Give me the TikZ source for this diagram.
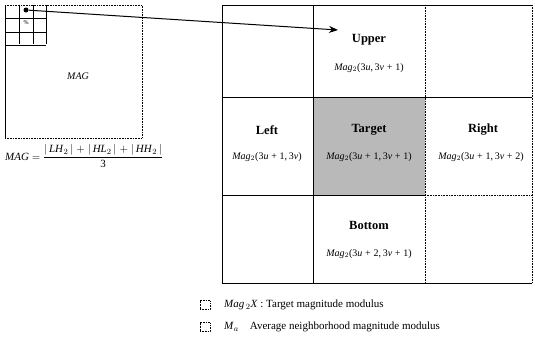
\documentclass[tikz,border=0pt]{standalone}
\usepackage{fontspec}
\setmainfont{Liberation Serif}
\usetikzlibrary{arrows.meta,patterns}
\begin{document}
\begin{tikzpicture}[x=1pt,y=-1pt,
  gridline/.style={line width=0.6pt,black},
  dotline/.style={line width=0.6pt,densely dotted,black},
  title/.style={font=\fontsize{12.5}{14}\selectfont\bfseries,inner sep=0pt},
  formula/.style={font=\fontsize{10}{12}\selectfont,inner sep=0pt},
  legtext/.style={font=\fontsize{11}{13}\selectfont,anchor=west,inner sep=0pt},
  legbox/.style={draw,densely dotted,line width=0.6pt,minimum width=10pt,minimum height=9pt,inner sep=0pt}]
\useasboundingbox (0,0) rectangle (535,343);
% left MAG square
\draw[gridline] (5,5) -- (5,138);
\draw[dotline] (5,5) -- (142,5) -- (142,138) -- (5,138);
\foreach \i in {19,33,46} {\draw[gridline] (\i,5) -- (\i,44); \draw[gridline] (5,\i-1) -- (46,\i-1);}
\node[circle,fill=black,inner sep=0pt,minimum size=5pt] (dot) at (26,10) {};
\node[font=\fontsize{6}{6}\selectfont,inner sep=0pt] (hatch) at (26,23) {\%};
\node[font=\fontsize{10}{11}\selectfont\itshape,inner sep=0pt] (mag) at (78,76) {MAG};
% formula
\node[font=\fontsize{11}{13}\selectfont,inner sep=0pt,anchor=west] (formula) at (5,156)
  {\textit{MAG} $=$ $\displaystyle\frac{\mbox{\fontsize{11}{13}\selectfont$|$\,\textit{LH}$_2$\,$|$\;$+$\;$|$\,\textit{HL}$_2$\,$|$\;$+$\;$|$\,\textit{HH}$_2$\,$|$}}{\mbox{\fontsize{11}{13}\selectfont 3}}$};
% right grid
\node[fill=gray!55,minimum width=112pt,minimum height=98pt,inner sep=0pt] (targetcell) at (369,146) {};
\draw[line width=1pt] (222,5) -- (532,5);
\draw[gridline] (222,5) -- (222,283) -- (532,283);
\draw[dotline] (532,5) -- (532,283);
\draw[line width=0.9pt] (222,97) -- (532,97);
\draw[gridline] (222,195) -- (425,195);
\draw[dotline] (425,195) -- (532,195);
\draw[gridline] (313,5) -- (313,283);
\draw[dotline] (425,5) -- (425,283);
% labels
\node[title] (upper) at (369,40) {Upper};
\node[formula] (upperf) at (369,68) {\textit{Mag}$_2$(3\textit{u},\,3\textit{v}\;+\;1)};
\node[title] (left) at (267,130) {Left};
\node[formula] (leftf) at (267,157) {\textit{Mag}$_2$(3\textit{u}\;+\;1,\,3\textit{v})};
\node[title] (target) at (369,130) {Target};
\node[formula] (targetf) at (369,157) {\textit{Mag}$_2$(3\textit{u}\;+\;1,\,3\textit{v}\;+\;1)};
\node[title] (right) at (483,130) {Right};
\node[formula] (rightf) at (481,157) {\textit{Mag}$_2$(3\textit{u}\;+\;1,\,3\textit{v}\;+\;2)};
\node[title] (bottom) at (369,225) {Bottom};
\node[formula] (bottomf) at (369,254) {\textit{Mag}$_2$(3\textit{u}\;+\;2,\,3\textit{v}\;+\;1)};
% arrow
\coordinate (arrowend) at (338,30);
\draw[line width=1pt,-{Stealth[length=9pt,width=7pt]}] (dot) -- (arrowend);
% legend
\node[legbox] (lb1) at (205,305) {};
\node[legtext] (lt1) at (224,305) {\textit{Mag}$_{\,2}$\textit{X} : Target magnitude modulus};
\node[legbox] (lb2) at (205,327) {};
\node[legtext] (lt2) at (224,327) {\textit{M}$_{a}$\quad Average neighborhood magnitude modulus};
\end{tikzpicture}
\end{document}
